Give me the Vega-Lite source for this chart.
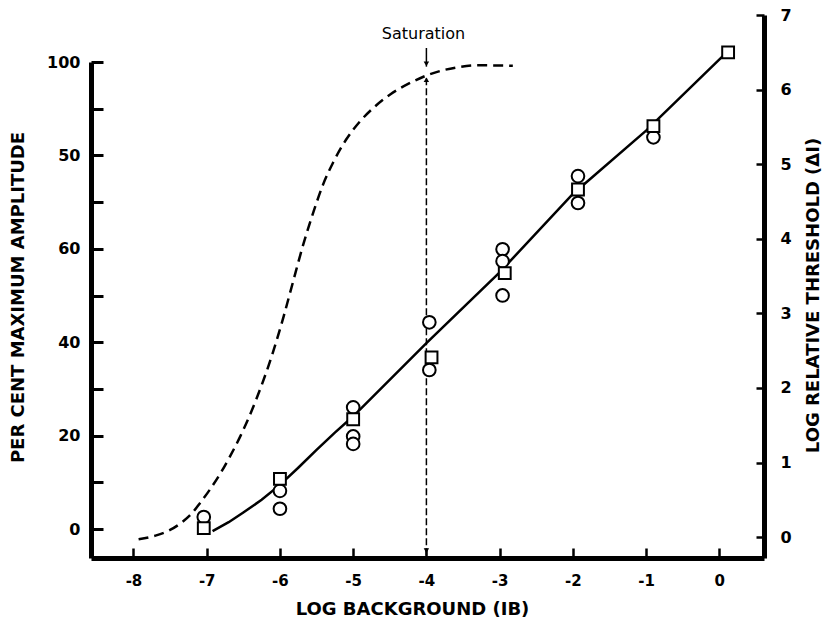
{
  "$schema": "https://vega.github.io/schema/vega-lite/v6.json",
  "width": 673,
  "height": 543,
  "autosize": "none",
  "padding": {"left": 91, "top": 15, "right": 61, "bottom": 66},
  "background": "white",
  "config": {
    "view": {"stroke": null},
    "axis": {
      "grid": false,
      "domainColor": "black",
      "tickColor": "black",
      "labelColor": "black",
      "titleColor": "black",
      "labelFont": "DejaVu Sans",
      "titleFont": "DejaVu Sans",
      "labelFontWeight": "bold",
      "titleFontWeight": "bold",
      "labelFontSize": 16,
      "titleFontSize": 18
    }
  },
  "resolve": {"scale": {"y": "independent"}},
  "layer": [
    {
      "layer": [
        {
          "data": {"values": [
            {"x": -7.93, "y": -2.2}, {"x": -7.7, "y": -1.4}, {"x": -7.5, "y": -0.2}, {"x": -7.35, "y": 1.3},
            {"x": -7.2, "y": 3.4}, {"x": -7.09, "y": 5.6}, {"x": -6.95, "y": 8.6}, {"x": -6.81, "y": 12},
            {"x": -6.68, "y": 15.6}, {"x": -6.54, "y": 19.9}, {"x": -6.4, "y": 24.8}, {"x": -6.25, "y": 30.8},
            {"x": -6.1, "y": 37.6}, {"x": -5.95, "y": 45.5}, {"x": -5.82, "y": 53}, {"x": -5.68, "y": 61},
            {"x": -5.54, "y": 68}, {"x": -5.41, "y": 73.8}, {"x": -5.27, "y": 78.6}, {"x": -5.1, "y": 83.3},
            {"x": -4.9, "y": 87.4}, {"x": -4.7, "y": 90.5}, {"x": -4.49, "y": 93.1}, {"x": -4.25, "y": 95.3},
            {"x": -3.95, "y": 97.4}, {"x": -3.6, "y": 98.8}, {"x": -3.3, "y": 99.3}, {"x": -2.82, "y": 99.2}
          ]},
          "mark": {"type": "line", "color": "black", "strokeWidth": 2.5, "strokeDash": [10, 6], "interpolate": "monotone"},
          "encoding": {
            "x": {
              "field": "x", "type": "quantitative",
              "scale": {"domain": [-8.58, 0.61], "nice": false, "zero": false},
              "axis": {
                "values": [-8, -7, -6, -5, -4, -3, -2, -1, 0],
                "labelExpr": "'' + datum.value",
                "labelFontSize": 15,
                "title": "LOG BACKGROUND (IB)",
                "domainWidth": 5,
                "tickWidth": 2.5,
                "tickSize": -10,
                "labelPadding": 25,
                "titleX": 321,
                "titleY": 51,
                "titleBaseline": "middle",
                "titleAlign": "center"
              }
            },
            "y": {
              "field": "y", "type": "quantitative",
              "scale": {"domain": [-6.2, 100], "range": [543, 47], "nice": false, "zero": false},
              "axis": {
                "orient": "left",
                "values": [0, 10, 20, 30, 40, 50, 60, 70, 80, 90, 100],
                "labelExpr": "datum.value % 20 === 0 ? (datum.value === 80 ? '50' : '' + datum.value) : ''",
                "title": "PER CENT MAXIMUM AMPLITUDE",
                "domainWidth": 5,
                "tickWidth": 3,
                "tickSize": -12,
                "labelPadding": 23,
                "titleX": -73,
                "titleY": 282,
                "titleAngle": -90,
                "titleBaseline": "middle",
                "titleAlign": "center"
              }
            }
          }
        },
        {
          "data": {"values": [{"x": -4, "y": -5.6, "y2": 96.5}]},
          "mark": {"type": "rule", "color": "black", "strokeWidth": 1.5, "strokeDash": [7, 3]},
          "encoding": {
            "x": {"field": "x", "type": "quantitative"},
            "y": {"field": "y", "type": "quantitative"},
            "y2": {"field": "y2"}
          }
        },
        {
          "data": {"values": [{"x": -4, "y": 103, "y2": 99}]},
          "mark": {"type": "rule", "color": "black", "strokeWidth": 1.5},
          "encoding": {
            "x": {"field": "x", "type": "quantitative"},
            "y": {"field": "y", "type": "quantitative"},
            "y2": {"field": "y2"}
          }
        },
        {
          "data": {"values": [{"x": -4, "y": 99.6}, {"x": -4, "y": -4.6}]},
          "mark": {"type": "point", "shape": "triangle-down", "filled": true, "color": "black", "size": 30, "opacity": 1},
          "encoding": {
            "x": {"field": "x", "type": "quantitative"},
            "y": {"field": "y", "type": "quantitative"}
          }
        },
        {
          "data": {"values": [{"x": -4, "y": 96.2}]},
          "mark": {"type": "point", "shape": "triangle-up", "filled": true, "color": "black", "size": 30, "opacity": 1},
          "encoding": {
            "x": {"field": "x", "type": "quantitative"},
            "y": {"field": "y", "type": "quantitative"}
          }
        },
        {
          "data": {"values": [{"x": -4.04, "y": 105.9, "label": "Saturation"}]},
          "mark": {"type": "text", "font": "DejaVu Sans", "fontSize": 16, "color": "black", "align": "center", "baseline": "middle"},
          "encoding": {
            "x": {"field": "x", "type": "quantitative"},
            "y": {"field": "y", "type": "quantitative"},
            "text": {"field": "label"}
          }
        }
      ]
    },
    {
      "layer": [
        {
          "data": {"values": [
            {"x": -6.92, "y": 0.08}, {"x": -6.7, "y": 0.2}, {"x": -6.5, "y": 0.33}, {"x": -6.25, "y": 0.5},
            {"x": -6.0, "y": 0.7}, {"x": -5.75, "y": 0.93}, {"x": -5.5, "y": 1.17}, {"x": -5.25, "y": 1.4},
            {"x": -5.0, "y": 1.62}, {"x": -4.0, "y": 2.6}, {"x": -3.0, "y": 3.55}, {"x": -2.0, "y": 4.6},
            {"x": -1.0, "y": 5.45}, {"x": 0.1, "y": 6.5}
          ]},
          "mark": {"type": "line", "color": "black", "strokeWidth": 2.5},
          "encoding": {
            "x": {"field": "x", "type": "quantitative"},
            "y": {
              "field": "y", "type": "quantitative",
              "scale": {"domain": [-0.28, 7], "nice": false, "zero": false},
              "axis": {
                "orient": "right",
                "values": [0, 1, 2, 3, 4, 5, 6, 7],
                "labelExpr": "'' + datum.value",
                "title": "LOG RELATIVE THRESHOLD (ΔI)",
                "domainWidth": 5,
                "tickWidth": 2.5,
                "tickSize": -8,
                "labelPadding": 24,
                "titleX": 49,
                "titleY": 280,
                "titleAngle": -90,
                "titleBaseline": "middle",
                "titleAlign": "center"
              }
            }
          }
        },
        {
          "data": {"values": [
            {"x": -7.04, "y": 0.27}, {"x": -6.0, "y": 0.62}, {"x": -6.0, "y": 0.38},
            {"x": -5.0, "y": 1.74}, {"x": -5.0, "y": 1.35}, {"x": -5.0, "y": 1.25},
            {"x": -3.96, "y": 2.88}, {"x": -3.96, "y": 2.24},
            {"x": -2.96, "y": 3.86}, {"x": -2.96, "y": 3.7}, {"x": -2.96, "y": 3.24},
            {"x": -1.93, "y": 4.84}, {"x": -1.93, "y": 4.48}, {"x": -0.9, "y": 5.36}
          ]},
          "mark": {"type": "point", "shape": "circle", "filled": true, "fill": "white", "stroke": "black", "strokeWidth": 2, "size": 160, "opacity": 1},
          "encoding": {
            "x": {"field": "x", "type": "quantitative"},
            "y": {"field": "y", "type": "quantitative"}
          }
        },
        {
          "data": {"values": [
            {"x": -7.04, "y": 0.12}, {"x": -6.0, "y": 0.78}, {"x": -5.0, "y": 1.58}, {"x": -3.93, "y": 2.41},
            {"x": -2.93, "y": 3.54}, {"x": -1.93, "y": 4.66}, {"x": -0.9, "y": 5.51}, {"x": 0.12, "y": 6.5}
          ]},
          "mark": {"type": "point", "shape": "square", "filled": true, "fill": "white", "stroke": "black", "strokeWidth": 2, "size": 140, "opacity": 1},
          "encoding": {
            "x": {"field": "x", "type": "quantitative"},
            "y": {"field": "y", "type": "quantitative"}
          }
        }
      ]
    }
  ]
}
